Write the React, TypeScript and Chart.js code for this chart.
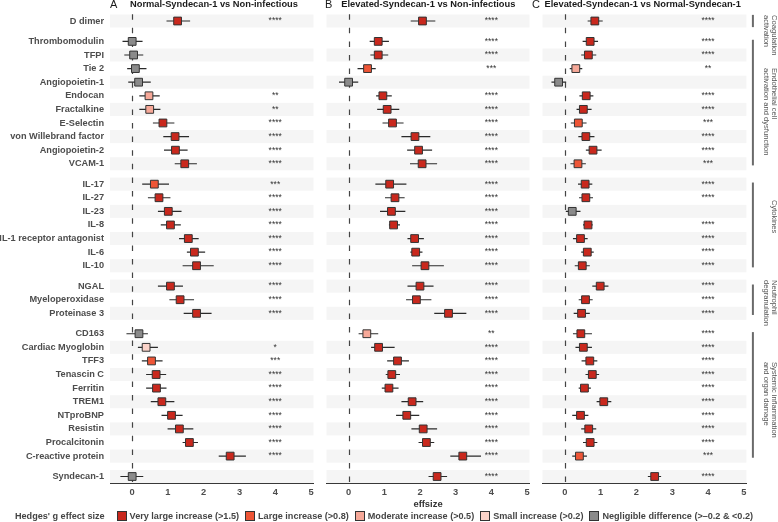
import React, { useEffect, useRef } from "react";
import { Chart, registerables } from "chart.js";

Chart.register(...registerables);

const FONT = "'Liberation Sans', Arial, Helvetica, sans-serif";

// ---------------- data ----------------
const variables = [
  "D dimer",
  "Thrombomodulin", "TFPI", "Tie 2", "Angiopoietin-1", "Endocan", "Fractalkine", "E-Selectin",
  "von Willebrand factor", "Angiopoietin-2", "VCAM-1",
  "IL-17", "IL-27", "IL-23", "IL-8", "IL-1 receptor antagonist", "IL-6", "IL-10",
  "NGAL", "Myeloperoxidase", "Proteinase 3",
  "CD163", "Cardiac Myoglobin", "TFF3", "Tenascin C", "Ferritin", "TREM1", "NTproBNP",
  "Resistin", "Procalcitonin", "C-reactive protein",
  "Syndecan-1",
];
const groupOfVariable = [0, 1, 1, 1, 1, 1, 1, 1, 1, 1, 1, 2, 2, 2, 2, 2, 2, 2, 3, 3, 3, 4, 4, 4, 4, 4, 4, 4, 4, 4, 4, 5];
const groupNames = [
  ["Coagulation", "activation"],
  ["Endothelial cell", "activation and dysfunction"],
  ["Cytokines"],
  ["Neutrophil", "degranulation"],
  ["Systemic inflammation", "and organ damage"],
  [],
];

const categoryLabels = [
  "Very large increase (>1.5)",
  "Large increase (>0.8)",
  "Moderate increase (>0.5)",
  "Small increase (>0.2)",
  "Negligible difference (>\u20130.2 & <0.2)",
];
const categoryColors = ["#c9281d", "#ee5536", "#f6a898", "#fbd3c9", "#8a8a8a"];

const xTicks = [0, 1, 2, 3, 4, 5];
const sigAt = 4;

const titles = [
  "Normal-Syndecan-1 vs Non-infectious",
  "Elevated-Syndecan-1 vs Non-infectious",
  "Elevated-Syndecan-1 vs Normal-Syndecan-1",
];
const tags = ["A", "B", "C"];

// Panel A
const aEst = [1.27, 0.0, 0.04, 0.09, 0.18, 0.47, 0.49, 0.86, 1.2, 1.21, 1.47, 0.62, 0.75, 1.01, 1.07, 1.57, 1.74, 1.8, 1.07, 1.34, 1.8, 0.19, 0.39, 0.54, 0.67, 0.68, 0.83, 1.1, 1.32, 1.6, 2.74, 0.0];
const aLow = [0.96, -0.27, -0.22, -0.14, -0.11, 0.2, 0.2, 0.58, 0.87, 0.89, 1.19, 0.28, 0.44, 0.72, 0.8, 1.31, 1.53, 1.41, 0.72, 1.04, 1.44, -0.16, 0.16, 0.27, 0.39, 0.39, 0.52, 0.82, 0.99, 1.41, 2.42, -0.33];
const aHigh = [1.62, 0.29, 0.31, 0.4, 0.52, 0.77, 0.79, 1.18, 1.59, 1.55, 1.81, 1.03, 1.07, 1.38, 1.36, 1.86, 2.04, 2.28, 1.42, 1.73, 2.22, 0.44, 0.72, 0.85, 0.95, 0.96, 1.18, 1.41, 1.71, 1.84, 3.18, 0.31];
const aCat = [0, 4, 4, 4, 4, 2, 2, 0, 0, 0, 0, 1, 0, 0, 0, 0, 0, 0, 0, 0, 0, 4, 3, 1, 0, 0, 0, 0, 0, 0, 0, 4];
const aSig = ["****", "", "", "", "", "**", "**", "****", "****", "****", "****", "***", "****", "****", "****", "****", "****", "****", "****", "****", "****", "", "*", "***", "****", "****", "****", "****", "****", "****", "****", ""];

// Panel B
const bEst = [2.07, 0.83, 0.83, 0.53, 0.0, 0.96, 1.08, 1.23, 1.86, 1.96, 2.06, 1.15, 1.3, 1.2, 1.26, 1.85, 1.88, 2.14, 2.0, 1.9, 2.8, 0.51, 0.84, 1.37, 1.21, 1.13, 1.78, 1.63, 2.09, 2.18, 3.2, 2.48];
const bLow = [1.74, 0.59, 0.61, 0.25, -0.27, 0.77, 0.8, 0.95, 1.48, 1.64, 1.72, 0.75, 1.02, 0.88, 1.13, 1.65, 1.73, 1.78, 1.65, 1.61, 2.4, 0.28, 0.63, 1.08, 1.04, 0.93, 1.48, 1.33, 1.76, 1.96, 2.85, 2.24];
const bHigh = [2.43, 1.13, 1.11, 0.76, 0.27, 1.21, 1.42, 1.54, 2.29, 2.34, 2.48, 1.62, 1.57, 1.59, 1.44, 2.11, 2.07, 2.67, 2.38, 2.32, 3.3, 0.83, 1.29, 1.69, 1.44, 1.4, 2.09, 1.98, 2.48, 2.4, 3.71, 2.76];
const bCat = [0, 0, 0, 1, 4, 0, 0, 0, 0, 0, 0, 0, 0, 0, 0, 0, 0, 0, 0, 0, 0, 2, 0, 0, 0, 0, 0, 0, 0, 0, 0, 0];
const bSig = ["****", "****", "****", "***", "", "****", "****", "****", "****", "****", "****", "****", "****", "****", "****", "****", "****", "****", "****", "****", "****", "**", "****", "****", "****", "****", "****", "****", "****", "****", "****", "****"];

// Panel C
const cEst = [0.84, 0.71, 0.66, 0.31, -0.17, 0.6, 0.52, 0.38, 0.59, 0.79, 0.37, 0.57, 0.59, 0.21, 0.65, 0.44, 0.63, 0.49, 0.99, 0.58, 0.47, 0.45, 0.52, 0.7, 0.77, 0.55, 1.09, 0.44, 0.67, 0.71, 0.41, 2.51];
const cLow = [0.64, 0.5, 0.46, 0.14, -0.37, 0.41, 0.33, 0.17, 0.38, 0.59, 0.16, 0.37, 0.4, 0.03, 0.51, 0.23, 0.46, 0.28, 0.77, 0.39, 0.25, 0.23, 0.3, 0.47, 0.58, 0.39, 0.89, 0.21, 0.46, 0.51, 0.21, 2.32];
const cHigh = [1.06, 0.93, 0.88, 0.49, 0.04, 0.8, 0.75, 0.61, 0.83, 1.03, 0.59, 0.77, 0.79, 0.44, 0.78, 0.64, 0.81, 0.7, 1.22, 0.78, 0.7, 0.76, 0.76, 0.91, 0.96, 0.73, 1.3, 0.66, 0.88, 0.91, 0.62, 2.69];
const cCat = [0, 0, 0, 2, 4, 0, 0, 1, 0, 0, 1, 0, 0, 4, 0, 0, 0, 0, 0, 0, 0, 0, 0, 0, 0, 0, 0, 0, 0, 0, 1, 0];
const cSig = ["****", "****", "****", "**", "", "****", "****", "***", "****", "****", "***", "****", "****", "", "****", "****", "****", "****", "****", "****", "****", "****", "****", "****", "****", "****", "****", "****", "****", "****", "***", "****"];

// ---------------- derived layout ----------------
const rowPos: number[] = [];
{
  let p = 0;
  variables.forEach((_, i) => {
    if (i > 0) p += groupOfVariable[i] !== groupOfVariable[i - 1] ? 1.5 : 1;
    rowPos.push(p);
  });
}
const striped = variables.map((_, i) => {
  const g = groupOfVariable[i];
  let last = i;
  while (last + 1 < variables.length && groupOfVariable[last + 1] === g) last++;
  return (last - i) % 2 === 0;
});
// where each rotated group label starts (in row units)
const groupLabelStart = [-0.44, 3.46, 13.16, 19.05, 25.07, 0];

const Y_MIN = -0.5;
const Y_MAX = 34;
const X_MIN = -0.62;
const X_MAX = 5.07;
const W = 778;
const H = 522;

const panelsLayout = [
  { left: 0, width: 320, padL: 0, padR: 2 },
  { left: 320, width: 216, padL: 4, padR: 3.3 },
  { left: 536, width: 242, padL: 3, padR: 31.6 },
];

type PanelProps = {
  index: number;
  est: number[];
  low: number[];
  high: number[];
  cat: number[];
  sig: string[];
};

function Panel({ index, est, low, high, cat, sig }: PanelProps) {
  const ref = useRef<HTMLCanvasElement>(null);
  const lay = panelsLayout[index];
  useEffect(() => {
    const canvas = ref.current!;
    const showY = index === 0;
    const showGroups = index === 2;

    const datasets: any[] = [
      {
        data: est.map((v, i) => ({ x: v, y: rowPos[i] })),
        pointStyle: "rect",
        pointRadius: 5.5,
        pointHoverRadius: 5.5,
        pointBackgroundColor: cat.map((c) => categoryColors[c]),
        pointBorderColor: "#333333",
        pointBorderWidth: 1,
        showLine: false,
        order: 0,
      },
    ];
    est.forEach((_, i) => {
      datasets.push({
        data: [
          { x: low[i], y: rowPos[i] },
          { x: high[i], y: rowPos[i] },
        ],
        showLine: true,
        borderColor: "#2a2a2a",
        borderWidth: 1.2,
        pointRadius: 0,
        pointHoverRadius: 0,
        order: 1,
      });
    });

    const backdrop = {
      id: "backdrop",
      beforeDatasetsDraw(chart: any) {
        const { ctx, chartArea: ca } = chart;
        const x = chart.scales.x;
        const y = chart.scales.y;
        ctx.save();
        ctx.fillStyle = "#f5f5f5";
        rowPos.forEach((p, i) => {
          if (!striped[i]) return;
          const y0 = y.getPixelForValue(p - 0.48);
          const y1 = y.getPixelForValue(p + 0.48);
          ctx.fillRect(ca.left, Math.min(y0, y1), ca.right - ca.left, Math.abs(y1 - y0));
        });
        const x0 = Math.round(x.getPixelForValue(0)) + 0.5;
        ctx.strokeStyle = "#444444";
        ctx.lineWidth = 1.2;
        ctx.setLineDash([5.5, 8.1]);
        ctx.beginPath();
        ctx.moveTo(x0, ca.top);
        ctx.lineTo(x0, ca.bottom);
        ctx.stroke();
        ctx.restore();
      },
      afterDatasetsDraw(chart: any) {
        const { ctx } = chart;
        const x = chart.scales.x;
        const y = chart.scales.y;
        ctx.save();
        ctx.fillStyle = "#333333";
        ctx.font = `8.5px ${FONT}`;
        ctx.textAlign = "center";
        ctx.textBaseline = "middle";
        sig.forEach((s, i) => {
          if (!s) return;
          ctx.fillText(s, x.getPixelForValue(sigAt), y.getPixelForValue(rowPos[i]));
        });
        ctx.restore();
      },
      afterDraw(chart: any) {
        if (!showGroups) return;
        const { ctx, chartArea: ca } = chart;
        const y = chart.scales.y;
        ctx.save();
        groupNames.forEach((lines, gi) => {
          if (!lines.length) return;
          const idx = variables.map((_, i) => i).filter((i) => groupOfVariable[i] === gi);
          const first = rowPos[idx[0]];
          const last = rowPos[idx[idx.length - 1]];
          const ext = idx.length === 1 ? 0.45 : 0.12;
          const y0 = y.getPixelForValue(first - ext);
          const y1 = y.getPixelForValue(last + ext);
          const bx = ca.right + 6.5;
          ctx.strokeStyle = "#6a6a6a";
          ctx.lineWidth = 2;
          ctx.setLineDash([]);
          ctx.beginPath();
          ctx.moveTo(bx, y0);
          ctx.lineTo(bx, y1);
          ctx.stroke();

          const tx = ca.right + 23.5;
          ctx.translate(tx, y.getPixelForValue(groupLabelStart[gi]));
          ctx.rotate(Math.PI / 2);
          ctx.fillStyle = "#555555";
          ctx.font = `7.6px ${FONT}`;
          ctx.textAlign = "left";
          ctx.textBaseline = "middle";
          lines.forEach((t, li) => {
            ctx.fillText(t, 0, -4.2 + li * 8.5);
          });
          ctx.setTransform(1, 0, 0, 1, 0, 0);
        });
        ctx.restore();
      },
    };

    const chart = new Chart(canvas, {
      type: "scatter",
      data: { datasets },
      options: {
        animation: false,
        responsive: false,
        maintainAspectRatio: false,
        devicePixelRatio: 1,
        events: [],
        layout: {
          padding: { top: 14.2, bottom: 11.86, left: lay.padL, right: lay.padR },
        },
        plugins: {
          legend: { display: false },
          tooltip: { enabled: false },
          title: { display: false },
        },
        scales: {
          x: {
            type: "linear",
            min: X_MIN,
            max: X_MAX,
            afterBuildTicks: (s: any) => {
              s.ticks = xTicks.map((v) => ({ value: v }));
            },
            grid: { display: false, drawTicks: false },
            border: { display: true, color: "#333333", width: 1 },
            ticks: {
              autoSkip: false,
              maxRotation: 0,
              padding: 4,
              color: "#4d4d4d",
              font: { family: FONT, size: 9.3, weight: "bold" },
            },
            title: {
              display: true,
              text: "effsize",
              color: index === 1 ? "#333333" : "rgba(0,0,0,0)",
              font: { family: FONT, size: 9.4, weight: "bold" },
              padding: { top: -3.6, bottom: 0 },
            },
          },
          y: {
            type: "linear",
            min: Y_MIN,
            max: Y_MAX,
            reverse: true,
            display: showY,
            afterBuildTicks: (s: any) => {
              s.ticks = rowPos.map((v) => ({ value: v }));
            },
            afterFit: (s: any) => {
              if (showY) s.width = 110;
            },
            grid: { display: false, drawTicks: false },
            border: { display: false },
            ticks: {
              autoSkip: false,
              padding: 6,
              color: "#4d4d4d",
              font: { family: FONT, size: 9.2, weight: "bold" },
              callback: (v: any) => {
                const i = rowPos.indexOf(Number(v));
                return i >= 0 ? variables[i] : "";
              },
            },
          },
        },
      } as any,
      plugins: [backdrop as any],
    });
    return () => chart.destroy();
  }, []);

  return (
    <canvas
      ref={ref}
      width={lay.width}
      height={H}
      style={{ position: "absolute", left: lay.left, top: 0, width: lay.width, height: H }}
    />
  );
}

const areaLeft = [110, 324, 539];
const areaWidth = [208, 208.7, 207.4];
const tagLeft = [110, 325, 532];

export default function App() {
  return (
    <div
      style={{
        position: "absolute",
        left: 0,
        top: 0,
        width: W,
        height: H,
        background: "#ffffff",
        fontFamily: FONT,
        overflow: "hidden",
      }}
    >
      <Panel index={0} est={aEst} low={aLow} high={aHigh} cat={aCat} sig={aSig} />
      <Panel index={1} est={bEst} low={bLow} high={bHigh} cat={bCat} sig={bSig} />
      <Panel index={2} est={cEst} low={cLow} high={cHigh} cat={cCat} sig={cSig} />

      {tags.map((t, i) => (
        <div
          key={"tag" + i}
          style={{
            position: "absolute",
            left: tagLeft[i],
            top: -1,
            fontSize: 11,
            lineHeight: "11px",
            color: "#1a1a1a",
            whiteSpace: "nowrap",
          }}
        >
          {t}
        </div>
      ))}
      {titles.map((t, i) => (
        <div
          key={"title" + i}
          style={{
            position: "absolute",
            left: areaLeft[i] - 20,
            width: areaWidth[i] + 40,
            top: 0.4,
            textAlign: "center",
            fontSize: 9.3,
            lineHeight: "9.3px",
            fontWeight: "bold",
            color: "#1a1a1a",
            whiteSpace: "nowrap",
          }}
        >
          {t}
        </div>
      ))}

      <div
        style={{
          position: "absolute",
          left: 15,
          top: 509.7,
          height: 12,
          display: "flex",
          alignItems: "center",
          fontSize: 9.1,
          fontWeight: "bold",
          color: "#444444",
          whiteSpace: "nowrap",
          lineHeight: "12px",
        }}
      >
        <span style={{ marginRight: 12 }}>Hedges' g effect size</span>
        {categoryLabels.map((l, i) => (
          <span key={l} style={{ display: "flex", alignItems: "center", marginRight: 6 }}>
            <span
              style={{
                display: "inline-block",
                width: 10,
                height: 10,
                boxSizing: "border-box",
                border: "1px solid #333",
                background: categoryColors[i],
                marginRight: 3,
              }}
            />
            <span>{l}</span>
          </span>
        ))}
      </div>
    </div>
  );
}
